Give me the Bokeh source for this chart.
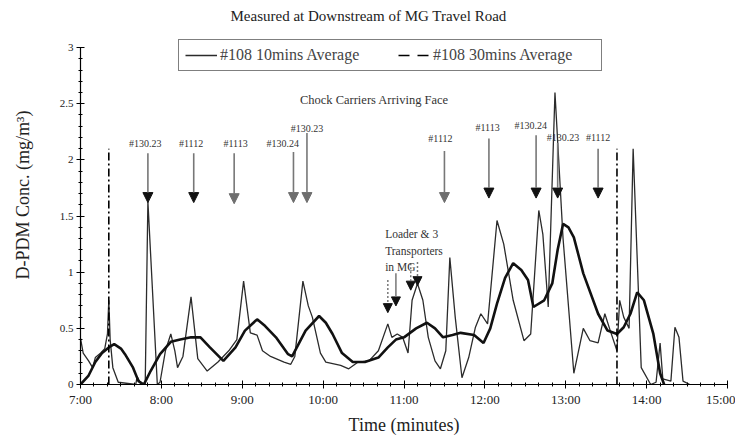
from bokeh.plotting import figure
from bokeh.models import (Range1d, Label, Arrow, NormalHead, ColumnDataSource,
                          Legend, LegendItem, FixedTicker, NumeralTickFormatter)
from bokeh.core.properties import value
from bokeh.embed import file_html
from bokeh.resources import INLINE

FONT = "Liberation Serif"

TITLE = "Measured at Downstream of MG Travel Road"
X_LABEL = "Time (minutes)"
Y_LABEL = "D-PDM Conc. (mg/m³)"

# x axis: minutes after 7:00
TICK_MINUTES = [0, 60, 120, 180, 240, 300, 360, 420, 480]
TICK_LABELS = ["7:00", "8:00", "9:00", "10:00", "11:00", "12:00", "13:00", "14:00", "15:00"]
Y_TICKS = [0, 0.5, 1, 1.5, 2, 2.5, 3]

# #108 10 mins average (minutes after 7:00, mg/m3)
T10 = [0, 2, 6, 9, 11, 15, 18, 20, 21, 22, 24, 28, 41, 42, 45, 48, 50, 57, 59, 63,
       67, 70, 72, 76, 82, 87, 94, 102, 110, 116, 121, 126, 131, 135, 141, 151, 156, 159, 165, 169,
       172, 178, 182, 193, 199, 206, 214, 221, 228, 231, 235, 239, 243, 246, 250, 254, 258, 263, 267, 271,
       274, 278, 283, 288, 293, 297, 302, 309, 314, 321, 329, 334, 340, 343, 347, 352, 358, 366, 373, 378,
       384, 389, 393, 398, 400, 403, 407, 410, 416, 423, 427, 430, 432, 438, 441, 444, 447, 452]
V10 = [0.41, 0.28, 0.21, 0.15, 0.24, 0.28, 0.32, 0.45, 0.75, 0.40, 0.15, 0.02, 0, 0.07, 0, 0, 1.63, 0, 0.02, 0.30,
       0.45, 0.30, 0.15, 0.25, 0.78, 0.23, 0.12, 0.20, 0.30, 0.40, 0.92, 0.46, 0.44, 0.30, 0.25, 0.20, 0.18, 0.25, 0.92, 0.70,
       0.60, 0.28, 0.20, 0.17, 0.14, 0.20, 0.21, 0.30, 0.54, 0.42, 0.45, 0.42, 0.28, 0.75, 0.90, 0.75, 0.42, 0.21, 0.14, 0.30,
       1.13, 0.60, 0.06, 0.24, 0.51, 0.63, 0.54, 1.46, 1.25, 0.75, 0.39, 0.45, 1.55, 1.34, 0.69, 2.60, 1.30, 0.10, 0.50, 0.39,
       0.37, 0.63, 0.48, 0.30, 0.75, 0.60, 0.50, 2.10, 0.15, 0, 0.02, 0.37, 0.05, 0.03, 0.51, 0.42, 0.03, 0]

# #108 30 mins average
T30 = [0, 6, 11, 16, 21, 25, 30, 33, 39, 43, 47, 52, 59, 67, 74, 82, 89, 96, 106, 115,
       122, 131, 137, 145, 154, 157, 167, 177, 182, 187, 194, 202, 211, 221, 228, 234, 240, 249, 257, 263,
       269, 276, 282, 292, 299, 304, 309, 315, 321, 327, 332, 336, 344, 350, 354, 358, 362, 366, 373, 384,
       391, 398, 403, 408, 413, 418, 425, 430, 433]
V30 = [0, 0.08, 0.20, 0.28, 0.33, 0.36, 0.32, 0.27, 0.15, 0.03, 0, 0.12, 0.27, 0.38, 0.40, 0.42, 0.42, 0.33, 0.21, 0.33,
       0.48, 0.58, 0.52, 0.42, 0.27, 0.25, 0.48, 0.61, 0.55, 0.45, 0.28, 0.20, 0.20, 0.24, 0.33, 0.40, 0.42, 0.50, 0.55, 0.50,
       0.42, 0.44, 0.46, 0.44, 0.37, 0.50, 0.72, 0.95, 1.08, 1.02, 0.93, 0.69, 0.75, 0.90, 1.20, 1.43, 1.40, 1.31, 0.99, 0.63,
       0.48, 0.45, 0.51, 0.63, 0.82, 0.75, 0.45, 0.10, 0]

# dash-dot markers
MARK_T = [21, 398]
MARK_TOP = [2.1, 2.1]

# chock carriers arriving face
CARRIER_NAMES = ["#130.23", "#1112", "#1113", "#130.24", "#130.23", "#1112", "#1113", "#130.24", "#130.23", "#1112"]
CARRIER_T = [50, 84, 114, 158, 168, 270, 303, 338, 354, 384]
CARRIER_FROM = [2.06, 2.06, 2.06, 2.07, 2.24, 2.08, 2.19, 2.22, 2.15, 2.10]
CARRIER_TO = [1.62, 1.62, 1.61, 1.62, 1.62, 1.62, 1.66, 1.66, 1.66, 1.66]
CARRIER_LABEL_T = [48, 82, 115, 150, 168, 267, 302, 334, 358, 384]
CARRIER_LABEL_V = [2.15, 2.15, 2.15, 2.15, 2.28, 2.19, 2.29, 2.31, 2.20, 2.20]
CARRIER_HEAD = ["black", "black", "grey", "grey", "grey", "grey", "black", "black", "black", "black"]

# loader & transporters
LOADER_T = [228, 234, 245, 250]
LOADER_FROM = [0.93, 0.99, 1.08, 1.09]
LOADER_TO = [0.64, 0.70, 0.84, 0.88]
LOADER_DOTTED = [True, False, True, True]
LOADER_LINES = ["Loader & 3", "Transporters", "in MG"]

p = figure(width=735, height=439, output_backend="svg", toolbar_location=None,
           x_range=Range1d(0, 480), y_range=Range1d(0, 3.375),
           min_border_left=80, min_border_right=8, min_border_top=5, min_border_bottom=55)
p.outline_line_color = None
p.xgrid.visible = False
p.ygrid.visible = False
p.background_fill_color = "white"
p.border_fill_color = "white"

thin = p.line(T10, V10, line_color="#2b2b2b", line_width=1.3)
thick = p.line(T30, V30, line_color="#111111", line_width=2.6)
proxy = p.line([float("nan")], [float("nan")], line_color="black", line_width=1.3, line_dash="11 8")
p.segment(x0=MARK_T, y0=[0] * len(MARK_T), x1=MARK_T, y1=MARK_TOP,
          line_color="black", line_width=1.6, line_dash="8 3 2 3")

# arrows
for head in ["black", "grey"]:
    idx = [i for i, h in enumerate(CARRIER_HEAD) if h == head]
    src = ColumnDataSource(dict(x=[CARRIER_T[i] for i in idx],
                                y0=[CARRIER_FROM[i] for i in idx],
                                y1=[CARRIER_TO[i] for i in idx]))
    col = "#111111" if head == "black" else "#6e6e6e"
    p.add_layout(Arrow(end=NormalHead(size=10, fill_color=col, line_color=col, line_width=1),
                       x_start="x", y_start="y0", x_end="x", y_end="y1", source=src,
                       line_color="#777777", line_width=1.6))

for dotted in [True, False]:
    idx = [i for i, d in enumerate(LOADER_DOTTED) if d == dotted]
    src = ColumnDataSource(dict(x=[LOADER_T[i] for i in idx],
                                y0=[LOADER_FROM[i] for i in idx],
                                y1=[LOADER_TO[i] for i in idx]))
    p.add_layout(Arrow(end=NormalHead(size=9, fill_color="#111111", line_color="#111111", line_width=1),
                       x_start="x", y_start="y0", x_end="x", y_end="y1", source=src,
                       line_color="#777777", line_width=1.5,
                       line_dash="2 2" if dotted else "solid"))

lab_src = ColumnDataSource(dict(x=CARRIER_LABEL_T, y=CARRIER_LABEL_V, t=CARRIER_NAMES))
p.text(x="x", y="y", text="t", source=lab_src, text_font=value(FONT), text_font_size="10px",
       text_align="center", text_baseline="middle", text_color="#333333")

p.add_layout(Label(x=218, y=2.53, text="Chock Carriers Arriving Face", text_align="center",
                   text_baseline="middle", text_font=FONT, text_font_size="12.5px", text_color="#333333"))
for i, line in enumerate(LOADER_LINES):
    p.add_layout(Label(x=226, y=1.344 - i * 0.151, text=line, text_align="left",
                       text_baseline="middle", text_font=FONT, text_font_size="11.5px",
                       text_color="#333333"))

p.add_layout(Label(x=213.7, y=3.285, text=TITLE, text_align="center", text_baseline="middle",
                   text_font=FONT, text_font_size="15px", text_color="#222222"))

# axes
xa = p.xaxis[0]
xa.ticker = FixedTicker(ticks=TICK_MINUTES, minor_ticks=list(range(0, 481, 10)))
xa.major_label_overrides = dict(zip(TICK_MINUTES, TICK_LABELS))
ya = p.yaxis[0]
ya.ticker = FixedTicker(ticks=Y_TICKS, minor_ticks=[round(i * 0.1, 1) for i in range(31)])
ya.formatter = NumeralTickFormatter(format="0.[0]")
ya.bounds = (0, 3)
for ax in (xa, ya):
    ax.axis_line_color = "black"
    ax.axis_line_width = 1.2
    ax.major_tick_line_color = "black"
    ax.minor_tick_line_color = "black"
    ax.major_tick_in = 4
    ax.major_tick_out = 4
    ax.minor_tick_in = 2
    ax.minor_tick_out = 2
    ax.major_label_text_font = FONT
    ax.axis_label_text_font = FONT
    ax.axis_label_text_font_style = "normal"
    ax.axis_label_text_color = "#222222"
    ax.major_label_text_color = "#222222"
xa.axis_label = X_LABEL
xa.axis_label_text_font_size = "18px"
xa.major_label_text_font_size = "13px"
xa.major_label_standoff = 3
xa.axis_label_standoff = 5
ya.axis_label = Y_LABEL
ya.axis_label_text_font_size = "18px"
ya.major_label_text_font_size = "11px"
ya.major_label_standoff = 3
ya.axis_label_standoff = 24

legend = Legend(items=[LegendItem(label="#108 10mins Average", renderers=[thin]),
                       LegendItem(label="#108 30mins Average", renderers=[proxy])],
                orientation="horizontal", location=(98, 313),
                border_line_color="black", border_line_width=1, background_fill_alpha=1,
                padding=6, spacing=16, glyph_width=32, glyph_height=16, label_standoff=3,
                label_width=162,
                label_text_font=FONT, label_text_font_size="16px", margin=0)
p.add_layout(legend)

open("out.html", "w").write(file_html(p, INLINE))
